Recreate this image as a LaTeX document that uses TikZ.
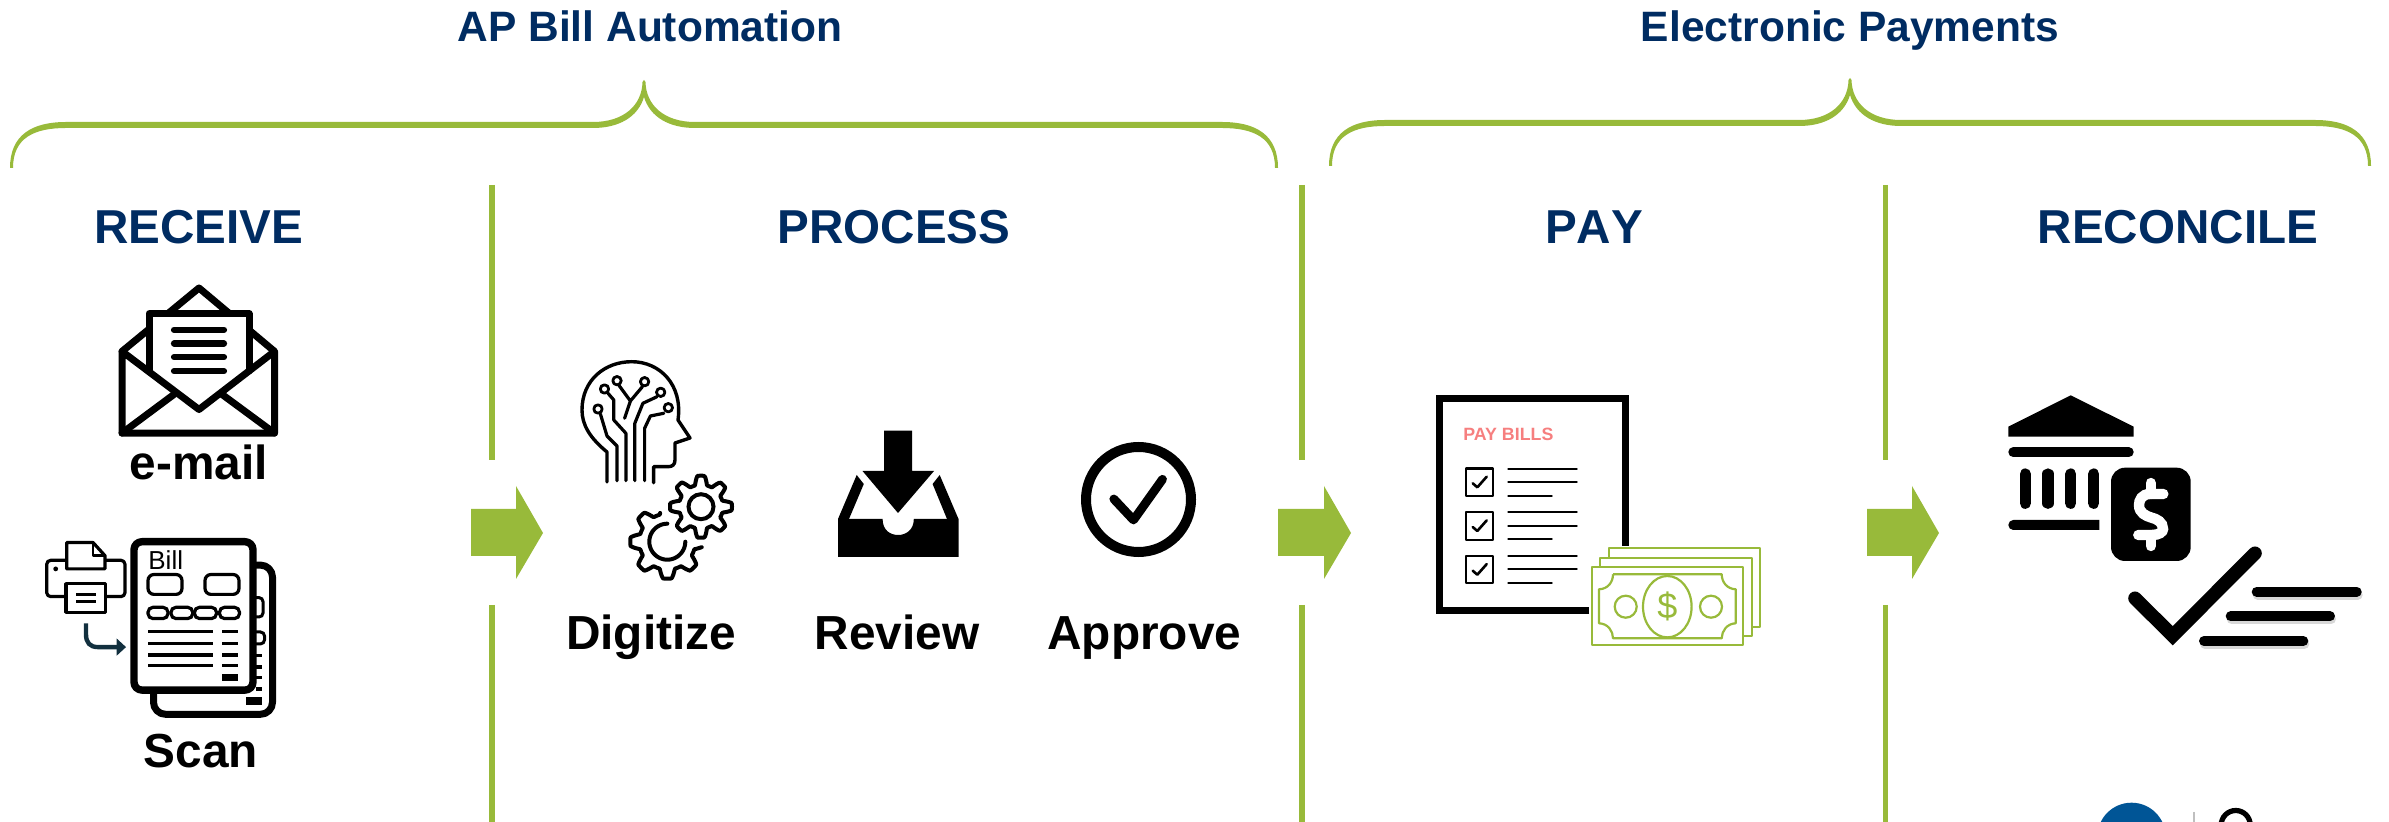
\documentclass[tikz,border=0pt]{standalone}
\usepackage{xcolor}
\usepackage{fontspec}
\usepackage{tikz}
\usetikzlibrary{positioning}
\setmainfont{Liberation Sans}

\definecolor{navytext}{HTML}{002C62}
\definecolor{flowgreen}{HTML}{98BA3A}
\definecolor{billred}{HTML}{F67F7F}
\definecolor{logoblue}{HTML}{005596}
\definecolor{scanarrow}{HTML}{12303F}

\tikzset{
  grouptitle/.style={inner sep=0, anchor=base, text=navytext, font=\fontsize{21.25}{24}\selectfont\bfseries},
  stagetitle/.style={inner sep=0, anchor=base, text=navytext, font=\fontsize{23.8}{28}\selectfont\bfseries\addfontfeatures{Kerning=Off}},
  steptext/.style={inner sep=0, anchor=base, text=black, font=\fontsize{23.9}{28}\selectfont\bfseries},
  divider/.style={draw=flowgreen, line width=2.8pt},
  flowarrow/.style={fill=flowgreen},
  iconline/.style={draw=black, line cap=round, line join=round},
  moneyline/.style={draw=flowgreen, line width=1.1pt, line join=round}
}

% brace: left, middle, right, tip y, bar y %
\newcommand{\groupbrace}[5]{
  \fill[flowgreen] (#1-2,#5+43) .. controls (#1-2,#5+10) and (#1+20,#5-3) .. (#1+54,#5-3)
    -- (#2-51,#5-3) .. controls (#2-20,#5-3) and (#2-2,#5-20) .. (#2-1.5,#4+2)
    -- (#2,#4) -- (#2+1.5,#4+2)
    .. controls (#2+2,#5-20) and (#2+20,#5-3) .. (#2+51,#5-3)
    -- (#3-54,#5-3) .. controls (#3-20,#5-3) and (#3+2,#5+10) .. (#3+2,#5+43)
    -- (#3-1,#5+43) .. controls (#3-1,#5+13) and (#3-22,#5+3) .. (#3-54,#5+3)
    -- (#2+51,#5+3) .. controls (#2+25,#5+3) and (#2+6,#5-8) .. (#2,#5-28)
    .. controls (#2-6,#5-8) and (#2-25,#5+3) .. (#2-51,#5+3)
    -- (#1+54,#5+3) .. controls (#1+22,#5+3) and (#1+1,#5+13) .. (#1+1,#5+43) -- cycle;
}

% divider with its arrow: x of divider, shaft start, head start, tip %
\newcommand{\flowstep}[4]{
  \draw[divider] (#1,185) -- (#1,460);
  \draw[divider] (#1,605) -- (#1,822);
  \fill[flowarrow] (#2,509) -- (#3,509) -- (#3,486) -- (#4,533) -- (#3,579) -- (#3,556) -- (#2,556) -- cycle;
}

% gear: centre x, centre y, radius, tooth height, from, to %
\newcommand{\gearline}[6]{
  \draw[iconline, line width=2pt] plot[smooth, domain=#5:#6, samples=150]
    ({#1+(#3+#4*max(-1,min(1,1.7*cos(8*\x))))*cos(\x)}, {#2+(#3+#4*max(-1,min(1,1.7*cos(8*\x))))*sin(\x)});
}

\begin{document}
\begin{tikzpicture}[x=0.5pt, y=-0.5pt]

\useasboundingbox (0,0) rectangle (2389,822);

% titles %
\node[grouptitle] (apbill) at (650,42) {AP Bill Automation};
\node[grouptitle] (epay) at (1850,42) {Electronic Payments};
\node[stagetitle] (receive) at (198.5,244) {RECEIVE};
\node[stagetitle] (process) at (894,244) {PROCESS};
\node[stagetitle] (pay) at (1594,244) {PAY};
\node[stagetitle] (reconcile) at (2178,244) {RECONCILE};

% labels %
\node[steptext] (email) at (199,480) {e-mail};
\node[steptext] (scan) at (201,768) {Scan};
\node[steptext] (digitize) at (651,650) {Digitize};
\node[steptext, base right = 39pt of digitize] (review) {Review};
\node[steptext, base right = 33.5pt of review] (approve) {Approve};

% braces, dividers %
\groupbrace{12}{644}{1276}{80}{125}
\groupbrace{1331}{1850}{2369}{78}{123}
\flowstep{492}{471}{516}{543}
\flowstep{1302}{1278}{1324}{1351}
\flowstep{1885.5}{1867}{1912}{1939}

% envelope %
\draw[iconline, line width=3.5pt] (122,351.4) -- (199,288) -- (274.5,351.4);
\fill[white] (149,313.8) rectangle (249,383.7);
\draw[iconline, line width=3.5pt] (149,370.8) -- (149,313.8) -- (249,313.8) -- (249,370.8);
\draw[iconline, line width=3.5pt] (122,351.4) -- (199,409.5) -- (274.5,351.4) -- (274.5,433.1) -- (122,433.1) -- cycle;
\draw[iconline, line width=3.5pt] (122,433.1) -- (174,394.4);
\draw[iconline, line width=3.5pt] (274.5,433.1) -- (222,394.4);
\foreach \y in {329.9,343.5,357.1,371.1}
  \draw[iconline, line width=3.1pt] (174,\y) -- (224,\y);

% printer %
\draw[iconline, line width=1.6pt, rounded corners=2pt] (46.7,560.3) rectangle (125,596.6);
\fill (55.7,568.9) circle (2.4);
\filldraw[iconline, fill=white, line width=1.6pt] (66.7,568.9) -- (66.7,542.5) -- (93,542.5) -- (105,555.7) -- (105,568.9) -- cycle;
\draw[iconline, line width=1.2pt] (93,542.5) -- (93,555.7) -- (105,555.7);
\filldraw[iconline, fill=white, line width=1.6pt] (66,583.7) rectangle (105.7,612.3);
\draw[line width=1.2pt] (76,594.4) -- (96,594.4) (76,601.6) -- (96,601.6);
\draw[scanarrow, line width=2.2pt] (86,623.5) -- (86,634.2) .. controls (86,642.8) and (90,647.1) .. (98,647.1) -- (118,647.1);
\fill[scanarrow] (116.7,638.5) -- (126,647.1) -- (116.7,655.7) -- cycle;

% bill sheets %
\draw[iconline, line width=3.5pt, rounded corners=6pt] (253,565.1) -- (272.5,565.1) -- (272.5,714.3) -- (153.5,714.3) -- (153.5,690.1);
\draw[line width=1.5pt, rounded corners=2pt] (253,597.6) -- (263,597.6) -- (263,617) -- (253,617);
\draw[line width=1.5pt, rounded corners=2pt] (253,632) -- (264.5,632) -- (264.5,643.9) -- (253,643.9);
\foreach \y in {655.7,666.8,677.5,689}
  \draw[line width=1.8pt] (256,\y) -- (261.7,\y);
\fill (246,697.3) rectangle (262.3,705.2);
\filldraw[iconline, fill=white, line width=3.7pt, rounded corners=4pt] (134,541.7) rectangle (253,690.1);
\node[inner sep=0, anchor=base west, font=\fontsize{13}{14}\selectfont] (billtext) at (148,570) {Bill};
\draw[line width=1.6pt, rounded corners=3pt] (148,574.5) rectangle (182,594.4) (205,574.5) rectangle (239,594.4);
\foreach \a/\b in {148/168,171/192.7,194.5/216.5,219.5/239.5}
  \draw[line width=1.6pt, rounded corners=2.5pt] (\a,607.3) rectangle (\b,618.6);
\foreach \y in {631.7,643.6,655,665.7}
  \draw[line width=1.8pt] (148.3,\y) -- (212.7,\y) (222.3,\y) -- (238.3,\y);
\fill (222.3,674) rectangle (238.3,681.3);

% head with circuit %
\draw[iconline, line width=1.7pt] (607,482) -- (607,452) .. controls (590,438) and (582,425) .. (582,410)
  .. controls (582,380) and (605,361.7) .. (631.7,361.7) .. controls (660,361.7) and (683,385) .. (678,420)
  -- (690,438) -- (675,443) -- (675,460) .. controls (675,465) and (672,466.7) .. (668,466.7) -- (653.6,466.7) -- (653.6,482.7);
\draw[iconline, line width=1.6pt] (600.4,414) -- (607,436) -- (617,446) -- (617,480.7);
\draw[iconline, line width=1.6pt] (608,393.3) -- (613.8,400) -- (613.8,420) -- (625.9,433.3) -- (625.9,480.7);
\draw[iconline, line width=1.6pt] (619.2,385.7) -- (630.4,401) -- (624.6,418.3) (642.4,386.7) -- (630.4,401);
\draw[iconline, line width=1.6pt] (657,396.7) -- (642.9,403.3) -- (634.8,423.3) -- (634.8,480.7);
\draw[iconline, line width=1.6pt] (663.8,413.3) -- (650.4,416) -- (644.6,428.3) -- (644.6,480.7);
\foreach \x/\y in {598/409,604.5/389,617/380.7,644.6/381.7,660.7/392.3,668.3/407.7}
  \filldraw[iconline, fill=white, line width=1.4pt] (\x,\y) circle (4.2);

% gears %
\gearline{667.3}{541.7}{32.5}{4.5}{9}{256}
\draw[iconline, line width=2pt] plot[smooth, domain=0:270, samples=40] ({667.3+18*cos(\x)}, {541.7+18*sin(\x)});
\gearline{701}{506.7}{26.5}{4.5}{0}{360}
\draw[black, line width=2pt] (701,506.7) circle (12.5);

% tray %
\fill (838,519) -- (849,519) -- (882.6,519) .. controls (882.6,530) and (890,535) .. (898,535) .. controls (906,535) and (913.8,530) .. (913.8,519)
  -- (947,519) -- (958.5,519) -- (958.5,557) -- (838,557) -- cycle;
\fill (838,519) -- (856.7,475) -- (863.8,484) -- (849,519) -- cycle;
\fill (958.5,519) -- (939.7,475) -- (932.6,484) -- (947,519) -- cycle;
\fill (884,430.7) -- (912,430.7) -- (912,471) -- (934,471) -- (898,513) -- (862.5,471) -- (884,471) -- cycle;

% check circle %
\draw[black, line width=5pt] (1138.5,499.5) circle (52.5);
\draw[iconline, line width=4.4pt] (1113.8,499) -- (1133.5,520) -- (1162.5,479.3);

% pay bills sheet %
\draw[black, line width=3.5pt] (1589,610.5) -- (1439.5,610.5) -- (1439.5,399) -- (1625,399) -- (1625,545.7);
\node[inner sep=0, anchor=base west, text=billred, font=\fontsize{8.9}{10}\selectfont\bfseries] (paybills) at (1463,440.5) {PAY BILLS};
\foreach \d in {0,43.7,87.4} {
  \draw[iconline, line width=1.1pt] (1466,468.5+\d) rectangle (1493.3,496+\d);
  \draw[iconline, line width=1.3pt] (1472.7,483.3+\d) -- (1477.3,487.3+\d) -- (1486.7,476.7+\d);
  \draw[iconline, line width=1.1pt] (1508.3,468.7+\d) -- (1576.7,468.7+\d) (1508.3,482+\d) -- (1576.7,482+\d) (1508.3,495.7+\d) -- (1551.7,495.7+\d);
}

% banknotes %
\filldraw[moneyline, fill=white] (1609,548.3) rectangle (1760,627.3);
\filldraw[moneyline, fill=white] (1600,557.7) rectangle (1751.7,636);
\filldraw[moneyline, fill=white] (1591.7,566.7) rectangle (1743.3,645);
\draw[moneyline] (1613,574.3) -- (1721.7,574.3) .. controls (1721.7,582) and (1727,589) .. (1735.7,589.3)
  -- (1735.7,623.3) .. controls (1727,623.6) and (1721.7,631) .. (1721.7,638.3) -- (1613,638.3)
  .. controls (1613,631) and (1608,623.6) .. (1599,623.3) -- (1599,589.3) .. controls (1608,589) and (1613,582) .. (1613,574.3);
\draw[moneyline] (1667.3,606.7) ellipse (24.3 and 30.7);
\draw[moneyline] (1625.7,606.7) circle (11) (1711,606.7) circle (11);
\node[inner sep=0, text=flowgreen, font=\fontsize{18}{20}\selectfont] (dollar) at (1667.3,606) {\$};

% bank %
\fill (2070.7,395.3) -- (2133.7,426.7) -- (2133.7,436.7) -- (2008.3,436.7) -- (2008.3,426.7) -- cycle;
\draw[iconline, line width=5pt] (2013.3,452.3) -- (2128.7,452.3);
\foreach \x in {2025.3,2048,2070.7,2093.7}
  \draw[iconline, line width=5.6pt] (\x,474) -- (\x,503.3);
\fill[rounded corners=2.5pt] (2099.3,520) -- (2008.3,520) -- (2008.3,530) [sharp corners] -- (2099.3,530) -- cycle;
\fill[rounded corners=7pt] (2111,467.7) rectangle (2190.7,561);
\draw[white, line width=5.2pt, line cap=round] (2163.3,494) -- (2150,494) .. controls (2142,494) and (2139,500) .. (2139,505)
  .. controls (2139,513) and (2146,516) .. (2151,517.5) .. controls (2157,519) and (2163,522) .. (2163,529)
  .. controls (2163,532) and (2159,535) .. (2152,535) -- (2138.3,535);
\draw[white, line width=5.2pt, line cap=round] (2150.7,483) -- (2150.7,494) (2150.7,535) -- (2150.7,546);

% check with lines %
\draw[line width=6.8pt, line cap=round, miter limit=10] (2135,598.3) -- (2172.7,635.7) -- (2255,553.3);
\foreach \a/\b/\y in {2256.7/2356.7/591.7,2230.7/2330/616.3,2204/2303.3/641} {
  \draw[gray!60, opacity=0.5, line width=5pt, line cap=round] (\a+1,\y+3) -- (\b+1,\y+3);
  \draw[line width=5pt, line cap=round] (\a,\y) -- (\b,\y);
}

% cut off logo %
\begin{scope}
\clip (2050,780) rectangle (2389,822);
\fill[logoblue] (2131.5,836.9) circle (34.2);
\draw[gray!50, line width=1pt] (2194,812) -- (2194,822);
\draw[black, line width=2.6pt] (2235.7,825) circle (14.5);
\end{scope}

\end{tikzpicture}
\end{document}
